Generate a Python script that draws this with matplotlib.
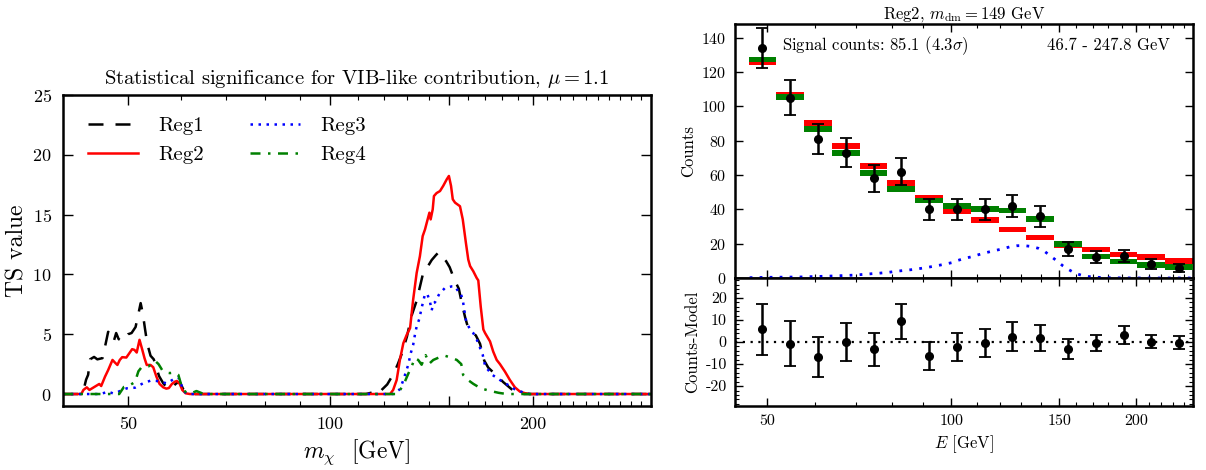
import numpy as np
import matplotlib
matplotlib.use('Agg')
import matplotlib.pyplot as plt
from matplotlib.ticker import FixedLocator, FixedFormatter, NullFormatter

plt.rcParams['font.family'] = 'serif'
plt.rcParams['font.serif'] = ['cmr10']
plt.rcParams['mathtext.fontset'] = 'cm'
plt.rcParams['axes.formatter.use_mathtext'] = True
plt.rcParams['axes.unicode_minus'] = False

# ---------------- left panel data: TS vs m_chi ----------------
m_reg1 = [40, 42.5, 43.0, 43.3, 43.6, 43.9, 44.5, 45.0, 45.8, 46.3, 46.7, 47.2, 47.6, 48.0, 48.4,
          49.0, 49.5, 50.0, 50.6, 51.3, 51.8, 52.2, 52.6, 53.0, 53.4, 54.0, 54.6, 55.1, 55.6,
          56.4, 57.0, 57.6, 58.2, 59.0, 59.7, 60.4, 61.2, 62.5, 113, 115.8, 117.5, 118.5,
          121.5, 124.2, 126, 127.8, 130, 132, 134.4, 137.4, 139.4, 141.5, 143.5, 144.9,
          146.6, 148.7, 150.5, 153.1, 155.3, 157, 158.7, 160, 162.2, 164.6, 167, 169.4,
          171.8, 175.6, 180.8, 186.1, 192.9, 300]
ts_reg1 = [0, 0, 0.5, 1.2, 1.6, 2.9, 3.1, 2.9, 3.0, 4.2, 5.2, 5.0, 4.4, 5.1, 4.6,
           4.4, 4.7, 5.0, 5.1, 5.6, 6.7, 7.6, 6.7, 5.4, 4.2, 3.2, 2.9, 2.2, 1.5,
           0.9, 0.6, 0.8, 0.6, 0.9, 1.0, 0.4, 0.2, 0, 0, 0.15, 0, 0.2,
           0.8, 1.7, 2.5, 3.4, 4.8, 6.5, 7.8, 10.1, 10.6, 11.2, 11.6, 11.85,
           11.5, 11.1, 10.6, 9.5, 8.8, 7.5, 6.4, 5.7, 5.2, 4.9, 4.2, 2.8,
           2.2, 1.7, 1.0, 0.4, 0, 0]

m_reg2 = [40, 42.6, 42.9, 43.4, 43.8, 44.6, 45.3, 45.6, 46.2, 46.7, 47.4, 47.8, 48.2, 48.6,
          49.0, 49.7, 50.3, 50.7, 51.1, 51.5, 52.0, 52.5, 52.9, 53.3, 54.0, 54.5, 55.1,
          55.7, 56.4, 57.0, 57.5, 58.1, 58.7, 59.1, 59.7, 60.2, 60.9, 61.8,
          122.7, 124.0, 125.5, 126.9, 128.4, 129.9, 131.4, 132.8, 134.4, 135.9, 137.2,
          138.3, 139.1, 140.4, 141.0, 142.0, 142.6, 143.9, 145.6, 147.2, 149.0, 150.1,
          151.2, 152.1, 153.3, 155.9, 157.4, 159.1, 160.4, 161.4, 163.2, 165.1, 166.0,
          167.4, 168.9, 169.9, 172.8, 174.7, 176.8, 178.8, 181.9, 185.0, 188.2, 191.5,
          194.8, 198.2, 300]
ts_reg2 = [0, 0, 0.34, 0.56, 0.34, 0.61, 0.84, 0.67, 1.45, 2.0, 2.85, 2.63, 2.43, 2.85,
           3.08, 3.05, 3.47, 3.75, 3.69, 3.47, 4.53, 3.69, 2.99, 2.43, 2.43, 2.24, 1.45,
           0.84, 0.56, 0.45, 0.50, 0.84, 1.03, 1.09, 0.84, 0.34, 0.06, 0,
           0, 0.34, 1.17, 2.85, 4.25, 4.95, 5.51, 7.89, 10.12, 11.52, 13.2,
           13.76, 14.3, 15.16, 14.6, 15.44, 16.55, 16.8, 16.97, 17.4, 17.95, 18.23,
           17.4, 16.28, 16.0, 15.7, 14.6, 12.64, 11.24, 10.7, 10.26, 9.7, 9.5,
           7.3, 5.4, 5.1, 4.4, 3.55, 2.85, 2.5, 1.87, 1.17, 0.56, 0.2,
           0.07, 0, 0]

m_reg3 = [40, 45.5, 46.7, 47.5, 48.4, 49.8, 51.2, 52.6, 54.0, 55.2, 56.1, 57.1, 58.4, 59.4,
          60.1, 60.4, 61.1, 62, 124, 126.9, 128.4, 129.6, 130.6, 131.7, 132.8, 133.6, 134.4,
          135.6, 136.7, 138.3, 139.4, 140.7, 141.5, 142.3, 143.1, 145.2, 148.1, 149.8,
          151.6, 153.3, 155.0, 156.3, 157.6, 159.1, 161.0, 163.2, 165.3, 168.5, 170.0,
          174.2, 178.8, 183.9, 188.2, 193.5, 198, 300]
ts_reg3 = [0, 0, 0.2, 0.05, 0.2, 0.48, 0.53, 0.89, 1.12, 1.09, 1.0, 0.89, 1.23, 1.4,
           0.67, 0.28, 0.05, 0, 0, 0.4, 1.17, 1.87, 2.46, 3.41, 4.11, 4.95, 5.65,
           6.26, 7.19, 8.36, 8.36, 7.69, 6.99, 7.6, 7.66, 8.36, 8.87, 8.92,
           9.0, 9.0, 8.58, 8.45, 7.66, 6.2, 5.5, 5.09, 4.5, 3.3, 2.3,
           1.6, 1.17, 0.75, 0.39, 0.14, 0, 0]

m_reg4 = [40, 48.5, 49.3, 49.8, 50.5, 51.2, 51.8, 52.3, 53.0, 53.6, 54.2, 54.9, 55.5, 56.2,
          56.9, 57.7, 58.6, 59.4, 60.1, 60.8, 61.5, 62.3, 63.2, 64.5, 65.5,
          126, 127.5, 129, 130.6, 132.1, 133.6, 135.1, 136.7, 138.6, 140.4, 142.3, 145,
          148.1, 151, 154.2, 156.6, 157.6, 160, 163.2, 166, 168, 173.2, 178, 183, 300]
ts_reg4 = [0, 0, 0.6, 0.7, 0.8, 1.0, 1.9, 2.2, 2.25, 2.3, 2.5, 2.75, 2.5, 2.0,
           1.8, 1.75, 1.8, 1.6, 0.6, 0.2, 0.05, 0.1, 0.25, 0.05, 0,
           0, 0.5, 1.0, 1.7, 2.3, 3.0, 2.85, 2.45, 3.25, 2.55, 2.85, 3.05,
           3.2, 3.05, 2.85, 2.5, 1.6, 1.2, 0.85, 0.6, 0.45, 0.25, 0.1, 0, 0]

# ---------------- right panel data: spectrum ----------------
bin_edges = [46.7, 51.83, 57.53, 63.86, 70.88, 78.67, 87.32, 96.92, 107.58, 119.40,
             132.53, 147.10, 163.27, 181.22, 201.14, 223.26, 247.8]
e_center = [49.20, 54.61, 60.61, 67.28, 74.67, 82.88, 92.00, 102.11, 113.33, 125.79,
            139.63, 154.97, 172.01, 190.93, 211.92, 235.21]
counts = [134, 105, 81, 73, 58, 62, 40, 40, 40, 42, 36, 17, 12, 13, 8, 6]
counts_err = [11.6, 10.2, 9.0, 8.5, 7.6, 7.9, 6.3, 6.3, 6.3, 6.5, 6.0, 4.1, 3.5, 3.6, 2.8, 2.4]
model_bkg = [125.7, 106.6, 90.1, 76.8, 65.1, 55.3, 46.5, 38.8, 33.6, 28.3, 23.6, 19.4,
             16.6, 13.7, 12.0, 9.7]
model_full = [127.3, 105.3, 87.0, 72.7, 61.0, 51.9, 45.2, 42.1, 40.4, 39.3, 34.2, 19.9,
              12.5, 9.6, 7.7, 6.3]
resid = [5.8, -0.8, -6.7, 0.0, -3.3, 9.4, -6.2, -2.3, -0.5, 2.3, 1.8, -3.2, -0.5, 3.3, 0.2, -0.3]
resid_err = [11.5, 10.1, 9.0, 8.5, 7.6, 7.9, 6.4, 6.3, 6.4, 6.6, 6.1, 4.4, 3.8, 4.1, 3.0, 2.8]
sig_E = [46.9, 50.3, 56.8, 64.5, 69.6, 74.2, 78.1, 82.2, 86.9, 90.8, 95.5, 100.1, 102.6,
         105.3, 108.0, 110.8, 114.0, 116.8, 120.9, 124.4, 127.9, 131.1, 135.0, 138.7,
         142.2, 145.4, 148.5, 151.9, 155.4, 159.3, 163.8, 167.9, 173.2, 178.8, 190, 210, 247.8]
sig_counts = [0.2, 0.4, 0.6, 1.2, 1.7, 2.5, 3.1, 4.1, 5.0, 6.0, 7.4, 8.9, 10.3,
              11.5, 12.4, 13.6, 14.8, 15.7, 16.9, 18.1, 18.8, 18.9, 18.4, 17.3,
              15.3, 12.6, 10.1, 7.2, 4.9, 2.7, 1.4, 0.8, 0.4, 0.2, 0.05, 0, 0]

fig = plt.figure(figsize=(12.06, 4.70), dpi=100)

# ---------------- left panel ----------------
axL = fig.add_axes([0.0522, 0.1362, 0.4876, 0.6617])
lw = 1.8
axL.plot(m_reg1, ts_reg1, color='k', lw=lw, dashes=(6.0, 4.8), label='Reg1')
axL.plot(m_reg2, ts_reg2, color='#ff0000', lw=lw, label='Reg2')
axL.plot(m_reg3, ts_reg3, color='#0000ff', lw=lw, dashes=(1.0, 2.2), label='Reg3')
axL.plot(m_reg4, ts_reg4, color='#008000', lw=lw, dashes=(4.0, 3.0, 1.0, 3.0), label='Reg4')
axL.set_xscale('log')
axL.set_xlim(40, 300)
axL.set_ylim(-1, 25)
axL.xaxis.set_major_locator(FixedLocator([50, 100, 150, 200]))
axL.xaxis.set_major_formatter(FixedFormatter(['50', '100', '', '200']))
axL.xaxis.set_minor_locator(FixedLocator([60, 70, 80, 90, 110, 120, 130, 140, 160, 170, 180,
                                          190, 210, 220, 230, 240, 250, 260, 270, 280, 290]))
axL.xaxis.set_minor_formatter(NullFormatter())
axL.set_yticks([0, 5, 10, 15, 20, 25])
axL.tick_params(which='both', direction='in', top=True, right=True, labelsize=13)
axL.tick_params(which='major', length=7, width=1.0, pad=8)
axL.tick_params(which='minor', length=3.5, width=0.8)
for s in axL.spines.values():
    s.set_linewidth(1.8)
axL.set_title(r'Statistical significance for VIB-like contribution, $\mu=1.1$',
              fontsize=14.8, pad=8)
axL.set_xlabel(r'$m_\chi$  [GeV]', fontsize=17, labelpad=4)
axL.set_ylabel('TS value', fontsize=17, labelpad=3)
axL.legend(ncol=2, loc='upper left', frameon=False, fontsize=15, handlelength=2.4,
           columnspacing=2.2, handletextpad=1.0, labelspacing=0.5,
           bbox_to_anchor=(0.01, 0.99))

# ---------------- right top panel ----------------
axT = fig.add_axes([0.6095, 0.4085, 0.3797, 0.5404])
axB = fig.add_axes([0.6095, 0.1362, 0.3797, 0.2723])
box_h = 3.4
edges = np.array(bin_edges)
widths = np.diff(edges)
axT.bar(edges[:-1], [box_h] * len(model_bkg), width=widths, align='edge',
        bottom=np.array(model_bkg) - box_h / 2, color='#ff0000', linewidth=0, zorder=2)
axT.bar(edges[:-1], [box_h] * len(model_full), width=widths, align='edge',
        bottom=np.array(model_full) - box_h / 2, color='#008000', linewidth=0, zorder=3)
axT.plot(sig_E, sig_counts, color='#0000ff', lw=2.0, dashes=(1.0, 2.6), zorder=4)
axT.errorbar(e_center, counts, yerr=counts_err, fmt='o', color='k', ms=5.5,
             capsize=4.5, elinewidth=1.8, capthick=1.3, zorder=5)
axT.text(0.103, 0.915, r'Signal counts: 85.1 $(4.3\sigma)$', transform=axT.transAxes,
         fontsize=12, ha='left', va='center')
axT.text(0.95, 0.915, '46.7 - 247.8 GeV', transform=axT.transAxes,
         fontsize=12, ha='right', va='center')
axT.set_ylim(0, 148)
axT.set_yticks([0, 20, 40, 60, 80, 100, 120, 140])
axT.set_ylabel('Counts', fontsize=12)
axT.set_title(r'Reg2, $m_{\rm dm}=149$ GeV', fontsize=12, pad=4)

axB.errorbar(e_center, resid, yerr=resid_err, fmt='o', color='k', ms=5.5,
             capsize=4.5, elinewidth=1.8, capthick=1.3, zorder=5)
axB.axhline(0, color='k', lw=1.6, dashes=(1.0, 2.5), zorder=1)
axB.set_ylim(-29, 29)
axB.set_yticks([-20, -10, 0, 10, 20])
axB.yaxis.set_major_formatter(FixedFormatter(['-20', '-10', '0', '10', '20']))
axB.yaxis.set_minor_locator(FixedLocator(list(range(-28, 29, 2))))
axB.set_ylabel('Counts-Model', fontsize=12)
axB.set_xlabel(r'$E$ [GeV]', fontsize=12)

for ax in (axT, axB):
    ax.set_xscale('log')
    ax.set_xlim(44.4, 247.8)
    ax.xaxis.set_major_locator(FixedLocator([50, 100, 150, 200]))
    ax.xaxis.set_minor_locator(FixedLocator([60, 70, 80, 90, 110, 120, 130, 140, 160, 170,
                                             180, 190, 210, 220, 230, 240]))
    ax.xaxis.set_minor_formatter(NullFormatter())
    ax.tick_params(which='both', direction='in', top=True, right=True, labelsize=11.5)
    ax.tick_params(which='major', length=6, width=1.0, pad=6)
    ax.tick_params(which='minor', length=3, width=0.8)
    for s in ax.spines.values():
        s.set_linewidth(1.8)
axT.xaxis.set_major_formatter(NullFormatter())
axB.xaxis.set_major_formatter(FixedFormatter(['50', '100', '150', '200']))

fig.savefig('out.png', dpi=100)
